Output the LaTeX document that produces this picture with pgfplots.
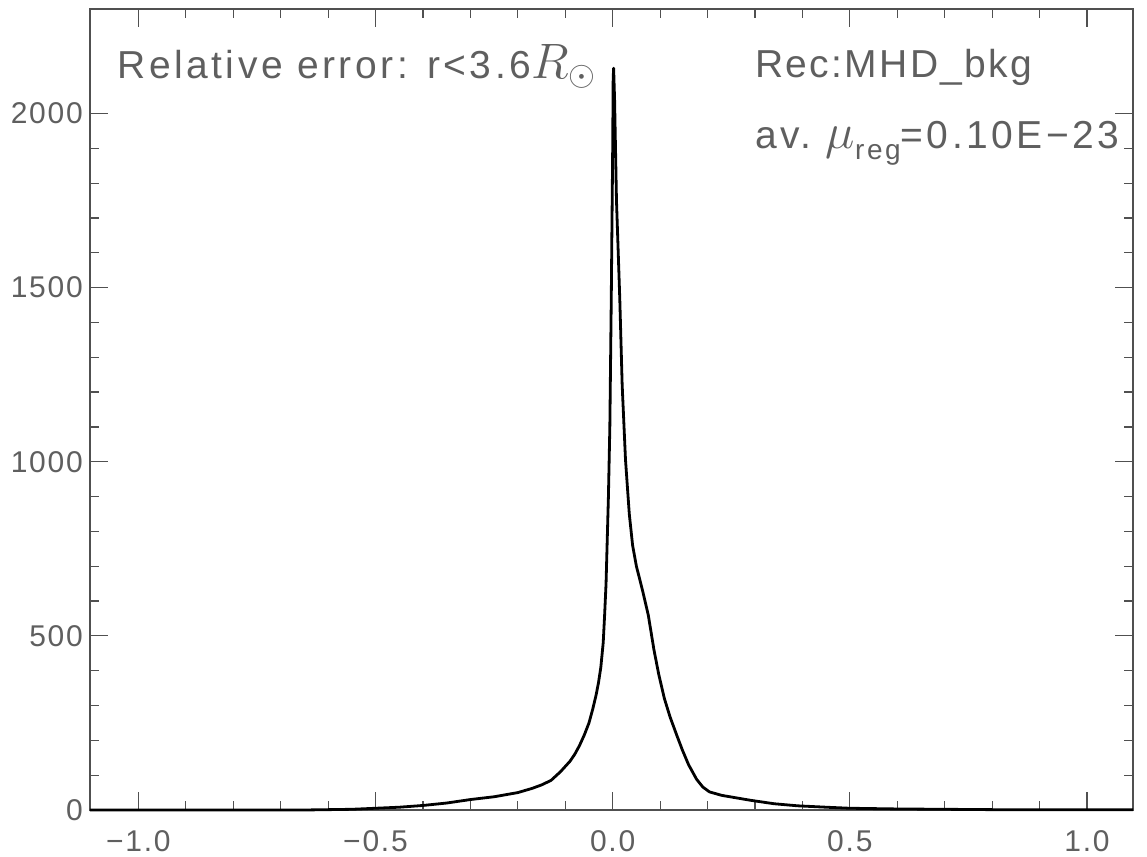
\documentclass[border=0pt]{standalone}
\usepackage{fontspec}
\setmainfont{Liberation Sans}
\newfontfamily\wide[LetterSpace=6]{Liberation Sans}
\newfontfamily\wider[LetterSpace=9]{Liberation Sans}
\usepackage{pgfplots}
\pgfplotsset{compat=1.18}
\definecolor{txtgray}{RGB}{95,95,95}
\definecolor{axgray}{RGB}{80,80,80}
\begin{document}
\begin{tikzpicture}
\begin{axis}[
  width=521.5pt, height=400.5pt, scale only axis,
  xmin=-1.102, xmax=1.097, ymin=0, ymax=2300,
  xtick={-1,-0.5,0,0.5,1},
  xticklabels={−1.0,−0.5,0.0,0.5,1.0},
  minor x tick num=4,
  ytick={0,500,1000,1500,2000},
  yticklabels={0,500,1000,1500,2000},
  minor y tick num=4,
  tick align=inside,
  major tick length=9pt, minor tick length=4.5pt,
  axis line style={draw=axgray, line width=0.6pt},
  every tick/.style={draw=axgray, line width=0.6pt},
  ticklabel style={font=\wide\fontsize{15}{17}\selectfont, text=txtgray},
  xticklabel style={yshift=-6.5pt},
  clip=false,
]
\addplot[black, line width=1.4pt, line join=round] coordinates {
(-1.102,0) (-0.80,0) (-0.65,0) (-0.60,1) (-0.55,2) (-0.50,5) (-0.45,8)
(-0.40,13) (-0.35,20) (-0.30,30) (-0.25,38) (-0.20,50) (-0.17,62)
(-0.15,72) (-0.13,85) (-0.11,110) (-0.09,140) (-0.08,160) (-0.07,185)
(-0.06,215) (-0.05,250) (-0.042,290) (-0.035,330) (-0.03,365)
(-0.025,410) (-0.02,480) (-0.017,560) (-0.014,650) (-0.012,750)
(-0.009,900) (-0.006,1100) (-0.003,1466) (0.000,1900) (0.001,2100)
(0.002,2130) (0.004,2040) (0.008,1750) (0.015,1466) (0.020,1220)
(0.027,1006) (0.035,850) (0.042,760) (0.050,700) (0.063,630)
(0.075,560) (0.087,460) (0.097,390) (0.109,320) (0.121,267)
(0.135,215) (0.147,172) (0.16,130) (0.177,88) (0.19,66) (0.204,52)
(0.23,42) (0.26,35) (0.29,28) (0.34,18) (0.39,12) (0.45,8) (0.50,5)
(0.60,3) (0.70,2) (0.80,1) (0.90,1) (1.00,1) (1.097,1)
};
\node[anchor=base west, inner sep=0pt, text=txtgray, font=\wider\fontsize{19.5}{22}\selectfont]
  at (axis cs:-1.045,2101) {Relative error: r<3.6{\fontsize{24}{26}\selectfont$R_\odot$}};
\node[anchor=base west, inner sep=0pt, text=txtgray, font=\wide\fontsize{19.5}{22}\selectfont]
  at (axis cs:0.300,2104) {Rec:MHD\_bkg};
\node[anchor=base west, inner sep=0pt, text=txtgray, font=\wider\fontsize{19.5}{22}\selectfont]
  at (axis cs:0.300,1900) {av.\ {\fontsize{26}{28}\selectfont$\mu$}\raisebox{-0.3em}{\fontsize{14}{16}\selectfont reg}=0.10E−23};
\end{axis}
\pgfresetboundingbox
\path ([xshift=-45pt,yshift=-23.5pt]current axis.south west) rectangle ([xshift=7pt,yshift=4.5pt]current axis.north east);
\end{tikzpicture}
\end{document}
